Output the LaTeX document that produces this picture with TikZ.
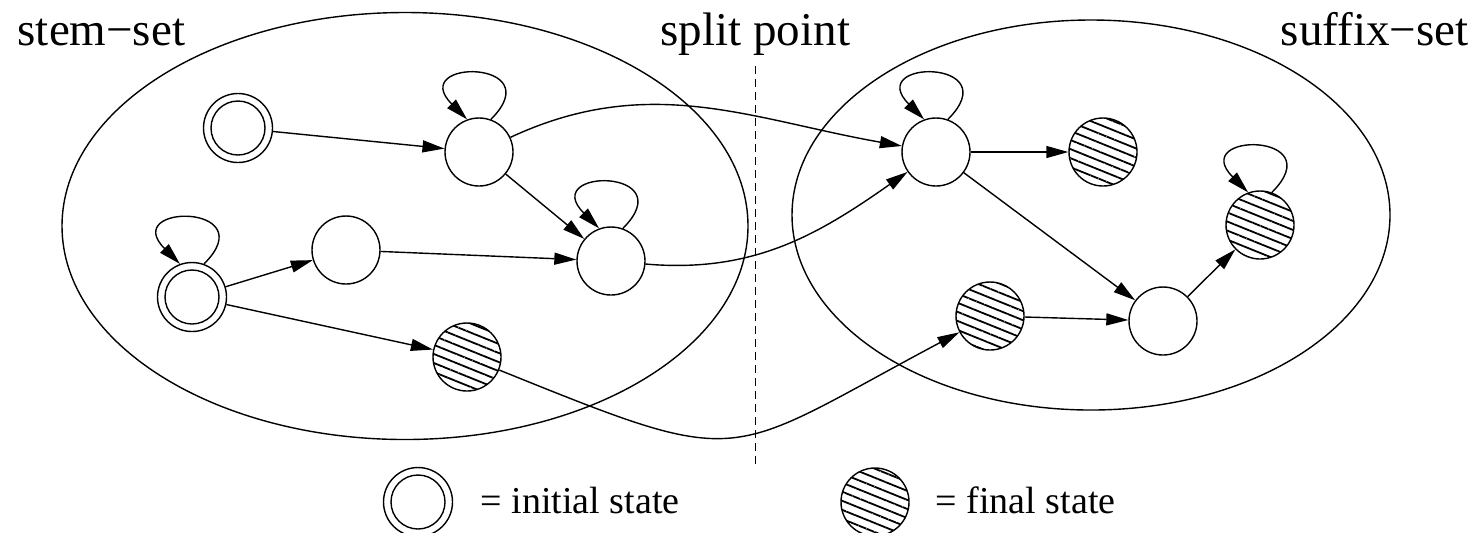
\documentclass[tikz,border=0pt]{standalone}
\usepackage{fontspec}
\setmainfont{Liberation Serif}
\usepackage{tikz}
\usetikzlibrary{arrows.meta,patterns.meta}

\begin{document}
\begin{tikzpicture}[
  x=0.5pt,y=0.5pt,line width=0.7pt,
  head/.style={font=\fontsize{23.5}{28}\selectfont,inner sep=0pt},
  key/.style={font=\fontsize{19}{23}\selectfont,inner sep=0pt},
  state/.style={circle,draw,minimum size=34pt,inner sep=0pt},
  startstate/.style={state,minimum size=34.5pt,
                     path picture={\draw (path picture bounding box.center) circle (13.5pt);}},
  finalstate/.style={state,pattern={Lines[angle=-22,distance=4.2pt,line width=0.9pt]}},
  trans/.style={-{Triangle[length=11pt,width=6pt]}}]
\useasboundingbox (0,0) rectangle (1476,-532);
% the two sets and the split between them
\draw (405,-226) ellipse [x radius=171.5pt,y radius=106.75pt];
\draw (1091,-215) ellipse [x radius=149.5pt,y radius=97.5pt];
\coordinate (splittop) at (755,-66);
\coordinate (splitbot) at (755,-466);
\draw[dashed,line width=0.5pt,dash pattern=on 4pt off 2.5pt] (splittop) -- (splitbot);
\node[head,anchor=base west] (stem)  at (17,-45)   {stem−set};
\node[head,anchor=base west] (split) at (660,-45)  {split point};
\node[head,anchor=base east] (suff)  at (1469,-45) {suffix−set};
% states
\node[startstate] (I1) at (238,-128) {};
\node[startstate] (I2) at (192,-297) {};
\node[state]      (A)  at (479,-152) {};
\node[state]      (B)  at (346,-250) {};
\node[state]      (C)  at (611,-261) {};
\node[finalstate] (F1) at (467,-357) {};
\node[state]      (D)  at (936,-152) {};
\node[finalstate] (F2) at (1103,-152) {};
\node[finalstate] (F3) at (1260,-225) {};
\node[finalstate] (F4) at (990,-316) {};
\node[state]      (E)  at (1163,-321) {};
% transitions
\draw[trans] (I1) -- (A);
\draw[trans] (A) -- (C);
\draw[trans] (I2) -- (B);
\draw[trans] (B) -- (C);
\draw[trans] (I2) -- (F1);
\draw[trans] (A) to[out=25,in=170] (D);
\draw[trans] (C) to[out=-5,in=215] (D);
\draw[trans] (F1) to[out=-22,in=208,looseness=1.5] (F4);
\draw[trans] (D) -- (F2);
\draw[trans] (D) -- (E);
\draw[trans] (F4) -- (E);
\draw[trans] (E) -- (F3);
\foreach \s in {I2,A,C,D,F3}
  \draw[trans] (\s.70) .. controls +(45:43pt) and +(135:43pt) .. (\s.110);
% legend
\node[startstate] (keyI) at (418,-502) {};
\node[key,anchor=base west] (keyItext) at (480,-513) {= initial state};
\node[finalstate] (keyF) at (875,-502) {};
\node[key,anchor=base west] (keyFtext) at (935,-513) {= final state};
\end{tikzpicture}
\end{document}
